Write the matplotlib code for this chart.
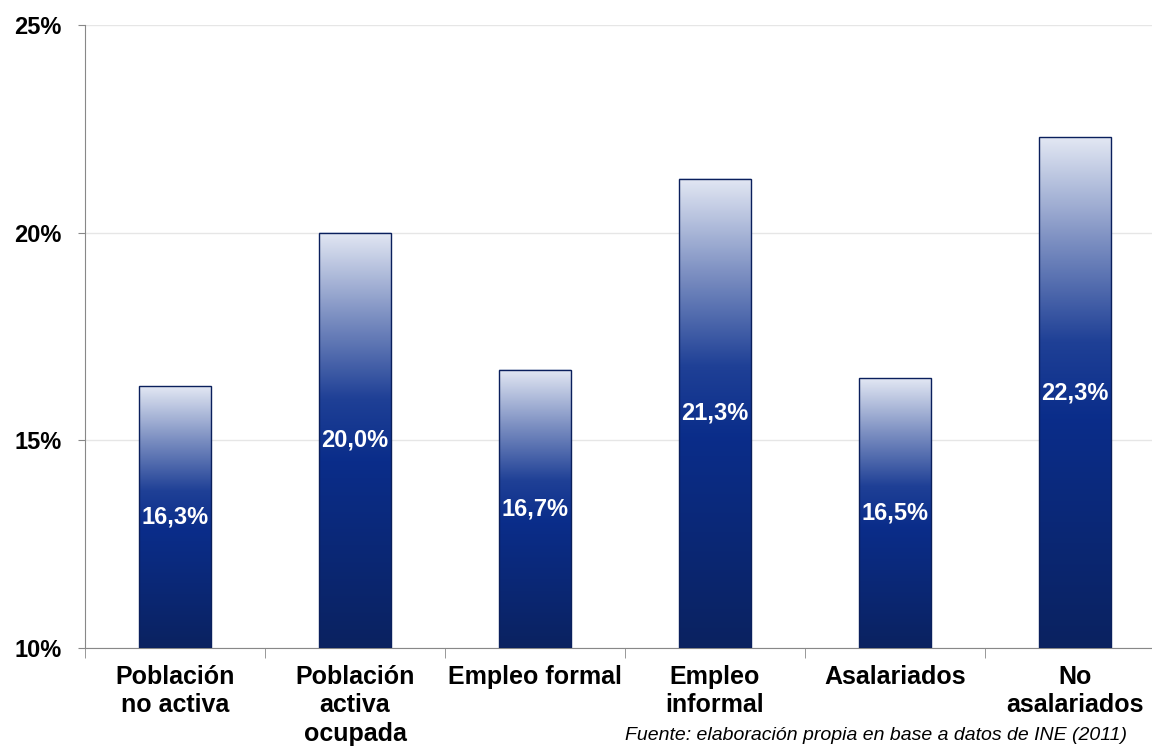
import matplotlib.pyplot as plt
import numpy as np
from matplotlib.colors import LinearSegmentedColormap

plt.rcParams['font.family'] = ['Liberation Sans', 'DejaVu Sans']

categorias = ['Población\nno activa', 'Población\nactiva\nocupada', 'Empleo formal',
              'Empleo\ninformal', 'Asalariados', 'No\nasalariados']
valores = [16.3, 20.0, 16.7, 21.3, 16.5, 22.3]
etiquetas = ['16,3%', '20,0%', '16,7%', '21,3%', '16,5%', '22,3%']
yticks = [10, 15, 20, 25]

base = 10
ancho = 0.4

# degradado vertical: navy oscuro abajo, casi blanco arriba
cmap = LinearSegmentedColormap.from_list(
    'barras', [(0.0, '#0b2260'), (0.45, '#0a2d8a'), (0.6, '#1f4096'),
               (0.8, '#7d90c2'), (1.0, '#e2e7f3')])
grad = np.linspace(0, 1, 256).reshape(-1, 1)

fig = plt.figure(figsize=(11.52, 7.47), dpi=100)
ax = fig.add_axes([85 / 1152, 1 - 648 / 747, 1080 / 1152, (648 - 25) / 747])

x = np.arange(len(categorias))
for xi, v, et in zip(x, valores, etiquetas):
    x0, x1 = xi - ancho / 2, xi + ancho / 2
    ax.imshow(grad, extent=[x0, x1, base, v], origin='lower', aspect='auto',
              cmap=cmap, zorder=3, interpolation='bicubic')
    ax.add_patch(plt.Rectangle((x0, base), ancho, v - base, fill=False,
                               edgecolor='#0a1f5c', linewidth=1.0, zorder=4))
    ax.text(xi, (base + v) / 2, et, color='white', fontsize=17,
            fontweight='bold', ha='center', va='center', zorder=5)

ax.set_xlim(-0.5, len(categorias) - 0.5)
ax.set_ylim(base, 25)

ax.set_yticks(yticks)
ax.set_yticklabels([f'{t}%' for t in yticks], fontsize=17, fontweight='bold')
ax.yaxis.grid(True, color='#e6e6e6', linewidth=1, zorder=0)
ax.set_axisbelow(True)

ax.set_xticks(x)
ax.set_xticklabels(categorias, fontsize=18, fontweight='bold', linespacing=1.25)
ax.set_xticks(np.arange(-0.5, len(categorias)), minor=True)
ax.tick_params(axis='x', which='major', length=0, pad=12)
ax.tick_params(axis='x', which='minor', length=7, color='#888888')
ax.tick_params(axis='y', length=5, color='#888888', pad=12)

for lado in ['top', 'right']:
    ax.spines[lado].set_visible(False)
for lado in ['left', 'bottom']:
    ax.spines[lado].set_color('#888888')

fig.text(625 / 1152, 1 - 740 / 747, 'Fuente: elaboración propia en base a datos de INE (2011)',
         fontsize=14, style='italic', ha='left', va='baseline')

fig.savefig('out.png', dpi=100)
